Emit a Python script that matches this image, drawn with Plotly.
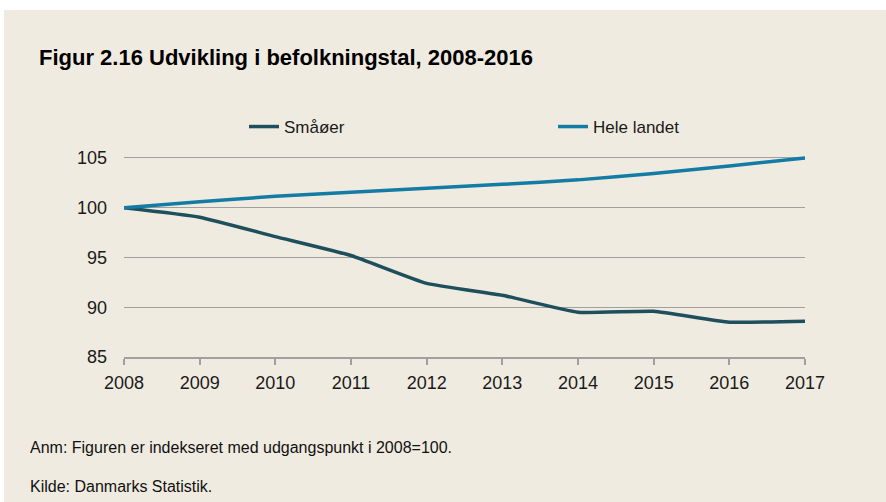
import plotly.graph_objects as go

years = [2008, 2009, 2010, 2011, 2012, 2013, 2014, 2015, 2016, 2017]
smaaoer = [100.0, 99.05, 97.1, 95.2, 92.4, 91.2, 89.5, 89.6, 88.5, 88.6]
hele_landet = [100.0, 100.6, 101.15, 101.55, 101.95, 102.35, 102.8, 103.45, 104.2, 105.0]

title_text = "Figur 2.16 Udvikling i befolkningstal, 2008-2016"
note_text = "Anm: Figuren er indekseret med udgangspunkt i 2008=100."
source_text = "Kilde: Danmarks Statistik."

BG = "#f0ebe0"
FONT = "Liberation Sans, Arial, sans-serif"
W, H = 886, 502
L, R, T, B = 124, 81, 154, 145

fig = go.Figure()
fig.add_trace(go.Scatter(x=years, y=smaaoer, name="Småøer", mode="lines",
                         line=dict(color="#1e4f5c", width=3.5, shape="spline", smoothing=0.4)))
fig.add_trace(go.Scatter(x=years, y=hele_landet, name="Hele landet", mode="lines",
                         line=dict(color="#137ca4", width=3.5, shape="spline", smoothing=0.4)))

pw = W - L - R
ph = H - T - B

def px_x(px):
    return (px - L) / pw

def px_y(py):
    return (H - B - py) / ph

fig.add_shape(type="rect", xref="paper", yref="paper",
              x0=px_x(4), x1=px_x(W + 5), y0=px_y(H + 5), y1=px_y(10),
              fillcolor=BG, line_width=0, layer="below")

fig.add_annotation(text="<b>" + title_text + "</b>", xref="paper", yref="paper",
                   x=px_x(37), y=px_y(57), xanchor="left", yanchor="middle",
                   showarrow=False, font=dict(family=FONT, size=22, color="#000"))
fig.add_annotation(text=note_text, xref="paper", yref="paper",
                   x=px_x(28), y=px_y(447), xanchor="left", yanchor="middle",
                   showarrow=False, font=dict(family=FONT, size=16, color="#111"))
fig.add_annotation(text=source_text, xref="paper", yref="paper",
                   x=px_x(28), y=px_y(486), xanchor="left", yanchor="middle",
                   showarrow=False, font=dict(family=FONT, size=16, color="#111"))

fig.update_layout(
    width=W, height=H,
    margin=dict(l=L, r=R, t=T, b=B),
    paper_bgcolor="white",
    plot_bgcolor="rgba(0,0,0,0)",
    font=dict(family=FONT, size=18, color="#1a1a1a"),
    showlegend=True,
    legend=dict(orientation="h", x=px_x(244), y=px_y(127), xanchor="left", yanchor="middle",
                entrywidth=264, entrywidthmode="pixels", bgcolor="rgba(0,0,0,0)",
                font=dict(size=17, color="#1a1a1a")),
    xaxis=dict(range=[2008, 2017], tickmode="array", tickvals=years,
               showgrid=False, showline=True, linecolor="#a0a0a0", linewidth=1.5,
               ticks="outside", ticklen=6, tickcolor="#a0a0a0", tickwidth=1.5,
               zeroline=False, fixedrange=True, ticklabelstandoff=3),
    yaxis=dict(range=[85, 105.4], tickmode="array", tickvals=[85, 90, 95, 100, 105],
               showgrid=True, gridcolor="#a0a0a0", gridwidth=1.2,
               showline=False, ticks="", zeroline=False, ticklabelstandoff=16),
)

fig.write_html("out.html", config={"displayModeBar": False},
               post_script="document.body.style.margin='0';")
